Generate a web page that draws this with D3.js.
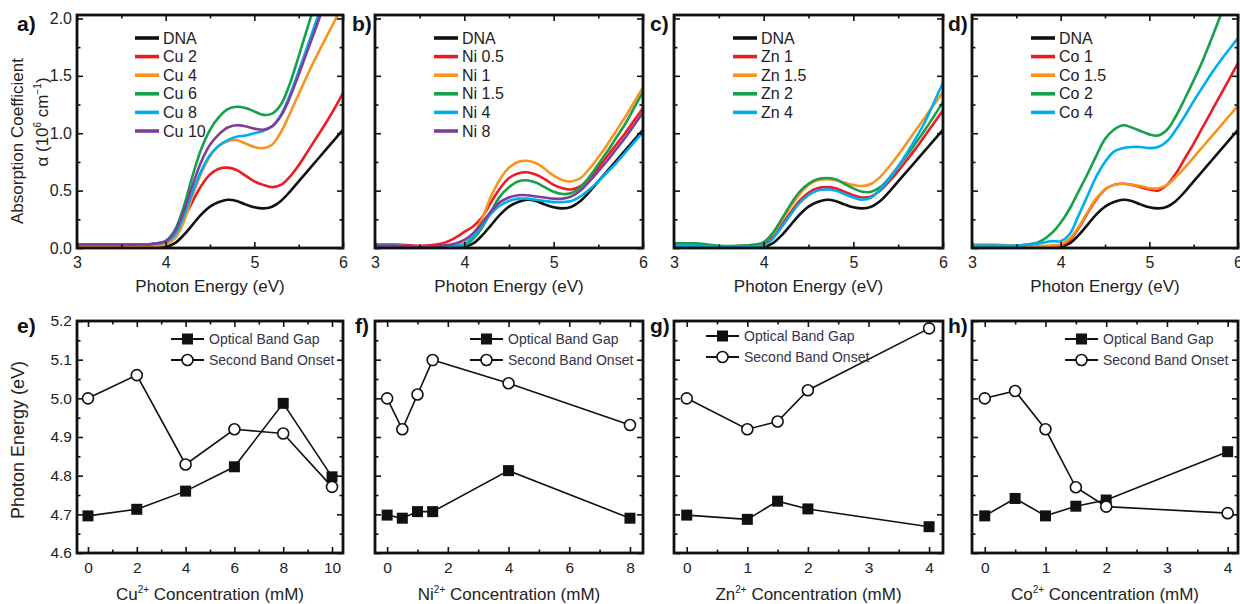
<!DOCTYPE html>
<html>
<head>
<meta charset="utf-8">
<script src="https://cdn.jsdelivr.net/npm/d3@7"></script>
<style>
body { margin: 0; background: #fff; }
svg { font-family: "Liberation Sans", Arial, sans-serif; }
</style>
</head>
<body>
<svg id="chart" width="1240" height="604"></svg>
<script>
// photon energy grid (eV) the spectra were read at
var energy = [3.0, 3.25, 3.5, 3.75, 3.9, 4.0, 4.1, 4.2, 4.3, 4.4, 4.5, 4.6, 4.7, 4.8, 4.9, 5.0, 5.1, 5.2, 5.3, 5.4, 5.5, 5.6, 5.7, 5.8, 5.9, 6.0];

// absorption coefficient, 10^6 cm^-1
var dna   = [0.02,0.02,0.01,0.01,0.01, 0.01,0.04,0.11,0.20,0.29,0.36,0.40,0.42,0.41,0.38,0.355,0.345,0.36,0.41,0.49,0.58,0.67,0.76,0.85,0.94,1.03];

var cu2  = [0.03,0.03,0.03,0.03,0.04, 0.05,0.12,0.25,0.40,0.54,0.64,0.69,0.70,0.68,0.63,0.58,0.55,0.53,0.55,0.62,0.72,0.84,0.96,1.08,1.21,1.35];
var cu4  = [0.02,0.02,0.02,0.02,0.02, 0.03,0.08,0.22,0.45,0.65,0.80,0.89,0.93,0.94,0.91,0.88,0.87,0.90,1.01,1.17,1.34,1.51,1.67,1.82,1.97,2.12];
var cu6  = [0.03,0.03,0.03,0.03,0.04, 0.06,0.15,0.35,0.62,0.86,1.03,1.14,1.21,1.23,1.22,1.19,1.16,1.17,1.25,1.43,1.67,1.92,2.15,2.30,2.40,2.50];
var cu8  = [0.03,0.03,0.03,0.03,0.04, 0.05,0.11,0.27,0.48,0.67,0.81,0.89,0.94,0.97,0.98,1.00,1.02,1.06,1.16,1.33,1.54,1.76,1.98,2.20,2.40,2.50];
var cu10 = [0.03,0.03,0.03,0.03,0.04, 0.06,0.14,0.31,0.54,0.75,0.90,0.99,1.05,1.07,1.06,1.04,1.03,1.06,1.15,1.31,1.51,1.72,1.93,2.14,2.30,2.40];

var ni05 = [0.03,0.03,0.02,0.04,0.09, 0.14,0.19,0.27,0.40,0.52,0.61,0.65,0.66,0.64,0.60,0.55,0.52,0.51,0.54,0.61,0.70,0.80,0.90,1.00,1.11,1.22];
var ni1  = [0.02,0.02,0.01,0.01,0.02, 0.05,0.12,0.26,0.45,0.60,0.70,0.75,0.76,0.74,0.69,0.63,0.59,0.58,0.61,0.69,0.79,0.90,1.02,1.14,1.27,1.40];
var ni15 = [0.02,0.02,0.01,0.01,0.01, 0.02,0.08,0.18,0.32,0.45,0.53,0.58,0.59,0.57,0.53,0.49,0.47,0.48,0.53,0.62,0.73,0.84,0.96,1.08,1.22,1.36];
var ni4  = [0.02,0.02,0.01,0.01,0.02, 0.03,0.10,0.20,0.30,0.37,0.41,0.43,0.43,0.42,0.41,0.40,0.40,0.41,0.45,0.51,0.58,0.66,0.74,0.83,0.92,1.01];
var ni8  = [0.02,0.02,0.01,0.02,0.04, 0.07,0.13,0.22,0.32,0.40,0.44,0.46,0.46,0.45,0.44,0.43,0.43,0.45,0.50,0.58,0.67,0.76,0.86,0.96,1.07,1.18];

var zn1  = [0.02,0.02,0.01,0.02,0.02, 0.04,0.10,0.20,0.31,0.41,0.48,0.52,0.53,0.52,0.49,0.46,0.44,0.45,0.50,0.58,0.67,0.77,0.87,0.98,1.09,1.20];
var zn15 = [0.02,0.02,0.01,0.02,0.02, 0.05,0.12,0.24,0.36,0.47,0.55,0.59,0.60,0.59,0.57,0.55,0.54,0.56,0.62,0.71,0.81,0.92,1.03,1.14,1.25,1.36];
var zn2  = [0.04,0.04,0.02,0.02,0.03, 0.05,0.13,0.25,0.38,0.49,0.56,0.60,0.61,0.60,0.56,0.52,0.49,0.49,0.53,0.61,0.71,0.81,0.92,1.03,1.15,1.27];
var zn4  = [0.02,0.02,0.01,0.01,0.01, 0.02,0.08,0.18,0.29,0.39,0.46,0.50,0.51,0.50,0.47,0.44,0.42,0.44,0.51,0.60,0.71,0.83,0.96,1.10,1.27,1.44];

var co1  = [0.01,0.01,0.01,0.01,0.02, 0.02,0.07,0.17,0.30,0.42,0.51,0.55,0.56,0.55,0.53,0.51,0.50,0.55,0.65,0.78,0.91,1.05,1.19,1.33,1.47,1.61];
var co15 = [0.03,0.03,0.02,0.02,0.02, 0.03,0.08,0.18,0.31,0.43,0.51,0.55,0.56,0.55,0.54,0.52,0.52,0.55,0.62,0.70,0.79,0.88,0.97,1.06,1.15,1.24];
var co2  = [0.02,0.02,0.02,0.05,0.13, 0.22,0.34,0.49,0.64,0.80,0.95,1.03,1.07,1.05,1.02,0.99,0.98,1.03,1.15,1.30,1.46,1.63,1.82,2.02,2.20,2.40];
var co4  = [0.02,0.02,0.02,0.04,0.06, 0.06,0.12,0.28,0.45,0.62,0.75,0.84,0.87,0.88,0.88,0.87,0.88,0.93,1.03,1.15,1.28,1.40,1.52,1.63,1.73,1.83];

// band energies (eV) vs ion concentration (mM)
var cuConc = [0, 2, 4, 6, 8, 10];
var cuGap = [4.696, 4.713, 4.760, 4.823, 4.987, 4.797];
var cuOnset = [5.000, 5.060, 4.829, 4.920, 4.909, 4.771];

var niConc = [0, 0.5, 1, 1.5, 4, 8];
var niGap = [4.698, 4.690, 4.707, 4.707, 4.813, 4.690];
var niOnset = [5.000, 4.920, 5.010, 5.099, 5.039, 4.931];

var znConc = [0, 1, 1.5, 2, 4];
var znGap = [4.698, 4.687, 4.734, 4.714, 4.668];
var znOnset = [5.000, 4.920, 4.940, 5.021, 5.181];

var coConc = [0, 0.5, 1, 1.5, 2, 4];
var coGap = [4.696, 4.741, 4.696, 4.721, 4.737, 4.862];
var coOnset = [5.000, 5.019, 4.920, 4.770, 4.720, 4.703];

var colors = { black: '#111111', red: '#ed1c24', orange: '#f7941d', green: '#16a04a', blue: '#00aeef', purple: '#7f3f98' };

var svg = d3.select('#chart');

var topY0 = 248, topY1 = 15, botY0 = 553, botY1 = 321;
var cols = [[77, 343], [375, 643], [674, 943], [972, 1238]];

var topPanels = [
	{ label: 'a)', lx: 17, legendX: 135, series: [
		['DNA', dna, 'black'], ['Cu 2', cu2, 'red'], ['Cu 4', cu4, 'orange'],
		['Cu 6', cu6, 'green'], ['Cu 8', cu8, 'blue'], ['Cu 10', cu10, 'purple']] },
	{ label: 'b)', lx: 352, legendX: 434, series: [
		['DNA', dna, 'black'], ['Ni 0.5', ni05, 'red'], ['Ni 1', ni1, 'orange'],
		['Ni 1.5', ni15, 'green'], ['Ni 4', ni4, 'blue'], ['Ni 8', ni8, 'purple']] },
	{ label: 'c)', lx: 650, legendX: 733, series: [
		['DNA', dna, 'black'], ['Zn 1', zn1, 'red'], ['Zn 1.5', zn15, 'orange'],
		['Zn 2', zn2, 'green'], ['Zn 4', zn4, 'blue']] },
	{ label: 'd)', lx: 948, legendX: 1031, series: [
		['DNA', dna, 'black'], ['Co 1', co1, 'red'], ['Co 1.5', co15, 'orange'],
		['Co 2', co2, 'green'], ['Co 4', co4, 'blue']] }
];

var botPanels = [
	{ label: 'e)', lx: 17, ion: 'Cu', conc: cuConc, gap: cuGap, onset: cuOnset, dom: [-0.45, 10.45],
	  major: [0, 2, 4, 6, 8, 10], minor: [1, 3, 5, 7, 9], legendX: 171, legendY: 339 },
	{ label: 'f)', lx: 355, ion: 'Ni', conc: niConc, gap: niGap, onset: niOnset, dom: [-0.4, 8.43],
	  major: [0, 2, 4, 6, 8], minor: [1, 3, 5, 7], legendX: 470, legendY: 339 },
	{ label: 'g)', lx: 650, ion: 'Zn', conc: znConc, gap: znGap, onset: znOnset, dom: [-0.21, 4.23],
	  major: [0, 1, 2, 3, 4], minor: [0.5, 1.5, 2.5, 3.5], legendX: 706, legendY: 336 },
	{ label: 'h)', lx: 948, ion: 'Co', conc: coConc, gap: coGap, onset: coOnset, dom: [-0.21, 4.17],
	  major: [0, 1, 2, 3, 4], minor: [0.5, 1.5, 2.5, 3.5], legendX: 1065, legendY: 339 }
];

// inward ticks on all four sides, labels only where asked
function drawAxes(g, x, y, o) {
	var y0 = y.range()[0], y1 = y.range()[1];
	var x0 = x.range()[0], x1 = x.range()[1];
	var fs = o.fontSize;

	var bx = g.append('g').attr('transform', 'translate(0,' + y0 + ')')
		.call(d3.axisBottom(x).tickValues(o.xMajor).tickSize(-6).tickPadding(9).tickFormat(d3.format('d')));
	g.append('g').attr('transform', 'translate(0,' + y0 + ')')
		.call(d3.axisBottom(x).tickValues(o.xMinor).tickSize(-3.5).tickFormat(''));
	g.append('g').attr('transform', 'translate(0,' + y1 + ')')
		.call(d3.axisTop(x).tickValues(o.xMajor).tickSize(-6).tickFormat(''));
	g.append('g').attr('transform', 'translate(0,' + y1 + ')')
		.call(d3.axisTop(x).tickValues(o.xMinor).tickSize(-3.5).tickFormat(''));

	var ly = g.append('g').attr('transform', 'translate(' + x0 + ',0)')
		.call(d3.axisLeft(y).tickValues(o.yMajor).tickSize(-6).tickPadding(5)
			.tickFormat(o.yLabels ? d3.format('.1f') : ''));
	g.append('g').attr('transform', 'translate(' + x0 + ',0)')
		.call(d3.axisLeft(y).tickValues(o.yMinor).tickSize(-3.5).tickFormat(''));
	g.append('g').attr('transform', 'translate(' + x1 + ',0)')
		.call(d3.axisRight(y).tickValues(o.yMajor).tickSize(-6).tickFormat(''));
	g.append('g').attr('transform', 'translate(' + x1 + ',0)')
		.call(d3.axisRight(y).tickValues(o.yMinor).tickSize(-3.5).tickFormat(''));

	g.selectAll('.domain').remove();
	g.selectAll('.tick line').attr('stroke', '#111').attr('stroke-width', 1.6);
	g.selectAll('.tick text').attr('fill', '#222').style('font-size', fs + 'px')
		.style('font-family', '"Liberation Sans", Arial, sans-serif');

	g.append('rect')
		.attr('x', x0).attr('y', y1)
		.attr('width', x1 - x0).attr('height', y0 - y1)
		.attr('fill', 'none').attr('stroke', '#111').attr('stroke-width', 2.8);
}

function panelLabel(txt, x, y) {
	svg.append('text').attr('x', x).attr('y', y)
		.style('font-size', '21px').style('font-weight', 'bold')
		.attr('fill', '#111').text(txt);
}

// ---- top row: absorption spectra ----
topPanels.forEach(function(p, i) {
	var x = d3.scaleLinear().domain([3, 6]).range(cols[i]);
	var y = d3.scaleLinear().domain([0, 2.03]).range([topY0, topY1]);
	var g = svg.append('g');

	var clipId = 'clipTop' + i;
	svg.append('clipPath').attr('id', clipId).append('rect')
		.attr('x', cols[i][0]).attr('y', topY1)
		.attr('width', cols[i][1] - cols[i][0]).attr('height', topY0 - topY1);

	var line = d3.line()
		.x(function(d) { return x(d[0]); })
		.y(function(d) { return y(d[1]); })
		.curve(d3.curveCatmullRom.alpha(0.5));

	g.append('g').attr('clip-path', 'url(#' + clipId + ')')
		.selectAll('path').data(p.series).enter().append('path')
		.attr('d', function(s) { return line(energy.map(function(e, k) { return [e, s[1][k]]; })); })
		.attr('fill', 'none')
		.attr('stroke', function(s) { return colors[s[2]]; })
		.attr('stroke-width', 2.6);

	drawAxes(g, x, y, {
		xMajor: [3, 4, 5, 6], xMinor: [3.5, 4.5, 5.5],
		yMajor: [0, 0.5, 1.0, 1.5, 2.0], yMinor: [0.25, 0.75, 1.25, 1.75],
		yLabels: i === 0, fontSize: 16
	});

	// legend
	var lg = g.append('g');
	p.series.forEach(function(s, k) {
		var ly = 38 + k * 18.6;
		lg.append('line').attr('x1', p.legendX).attr('x2', p.legendX + 24)
			.attr('y1', ly).attr('y2', ly)
			.attr('stroke', colors[s[2]]).attr('stroke-width', 3.6);
		lg.append('text').attr('x', p.legendX + 28).attr('y', ly + 5.5)
			.style('font-size', '16px').attr('fill', '#222').text(s[0]);
	});

	g.append('text').attr('x', (cols[i][0] + cols[i][1]) / 2).attr('y', 292)
		.attr('text-anchor', 'middle').style('font-size', '17px').attr('fill', '#222')
		.text('Photon Energy (eV)');

	panelLabel(p.label, p.lx, 31);
});

// top y title
var yt = svg.append('g');
yt.append('text').attr('transform', 'translate(23,141) rotate(-90)')
	.attr('text-anchor', 'middle').style('font-size', '17px').attr('fill', '#222')
	.text('Absorption Coefficient');
var yt2 = yt.append('text').attr('transform', 'translate(48,122) rotate(-90)')
	.attr('text-anchor', 'middle').style('font-size', '17px').attr('fill', '#222');
yt2.append('tspan').text('\u03b1 (10');
yt2.append('tspan').attr('dy', -7).style('font-size', '10px').text('6');
yt2.append('tspan').attr('dy', 7).text(' cm');
yt2.append('tspan').attr('dy', -7).style('font-size', '10px').text('\u22121');
yt2.append('tspan').attr('dy', 7).text(')');

// ---- bottom row: band energies ----
botPanels.forEach(function(p, i) {
	var x = d3.scaleLinear().domain(p.dom).range(cols[i]);
	var y = d3.scaleLinear().domain([4.6, 5.2]).range([botY0, botY1]);
	var g = svg.append('g');

	drawAxes(g, x, y, {
		xMajor: p.major, xMinor: p.minor,
		yMajor: [4.6, 4.7, 4.8, 4.9, 5.0, 5.1, 5.2], yMinor: [4.65, 4.75, 4.85, 4.95, 5.05, 5.15],
		yLabels: i === 0, fontSize: 15.5
	});

	var line = d3.line()
		.x(function(d) { return x(d[0]); })
		.y(function(d) { return y(d[1]); });

	var gapPts = p.conc.map(function(c, k) { return [c, p.gap[k]]; });
	var onPts = p.conc.map(function(c, k) { return [c, p.onset[k]]; });

	g.append('path').attr('d', line(gapPts)).attr('fill', 'none')
		.attr('stroke', '#111').attr('stroke-width', 1.6);
	g.append('path').attr('d', line(onPts)).attr('fill', 'none')
		.attr('stroke', '#111').attr('stroke-width', 1.6);

	g.selectAll('rect.sq').data(gapPts).enter().append('rect').attr('class', 'sq')
		.attr('x', function(d) { return x(d[0]) - 5.5; })
		.attr('y', function(d) { return y(d[1]) - 5.5; })
		.attr('width', 11).attr('height', 11).attr('fill', '#111');
	g.selectAll('circle').data(onPts).enter().append('circle')
		.attr('cx', function(d) { return x(d[0]); })
		.attr('cy', function(d) { return y(d[1]); })
		.attr('r', 5.5).attr('fill', '#fff').attr('stroke', '#111').attr('stroke-width', 1.6);

	// legend
	var lx = p.legendX, lyy = p.legendY;
	g.append('line').attr('x1', lx).attr('x2', lx + 33).attr('y1', lyy).attr('y2', lyy)
		.attr('stroke', '#111').attr('stroke-width', 2);
	g.append('rect').attr('x', lx + 11).attr('y', lyy - 5.5).attr('width', 11).attr('height', 11).attr('fill', '#111');
	g.append('text').attr('x', lx + 38).attr('y', lyy + 5).style('font-size', '14px')
		.attr('fill', '#34344a').text('Optical Band Gap');
	g.append('line').attr('x1', lx).attr('x2', lx + 33).attr('y1', lyy + 21).attr('y2', lyy + 21)
		.attr('stroke', '#111').attr('stroke-width', 2);
	g.append('circle').attr('cx', lx + 16.5).attr('cy', lyy + 21).attr('r', 5.5)
		.attr('fill', '#fff').attr('stroke', '#111').attr('stroke-width', 1.6);
	g.append('text').attr('x', lx + 38).attr('y', lyy + 26).style('font-size', '14px')
		.attr('fill', '#34344a').text('Second Band Onset');

	var xt = g.append('text').attr('x', (cols[i][0] + cols[i][1]) / 2).attr('y', 600)
		.attr('text-anchor', 'middle').style('font-size', '17px').attr('fill', '#222');
	xt.append('tspan').text(p.ion);
	xt.append('tspan').attr('dy', -7).style('font-size', '10px').text('2+');
	xt.append('tspan').attr('dy', 7).text(' Concentration (mM)');

	panelLabel(p.label, p.lx, 333);
});

svg.append('text').attr('transform', 'translate(24,440) rotate(-90)')
	.attr('text-anchor', 'middle').style('font-size', '18px').attr('fill', '#222')
	.text('Photon Energy (eV)');
</script>
</body>
</html>
